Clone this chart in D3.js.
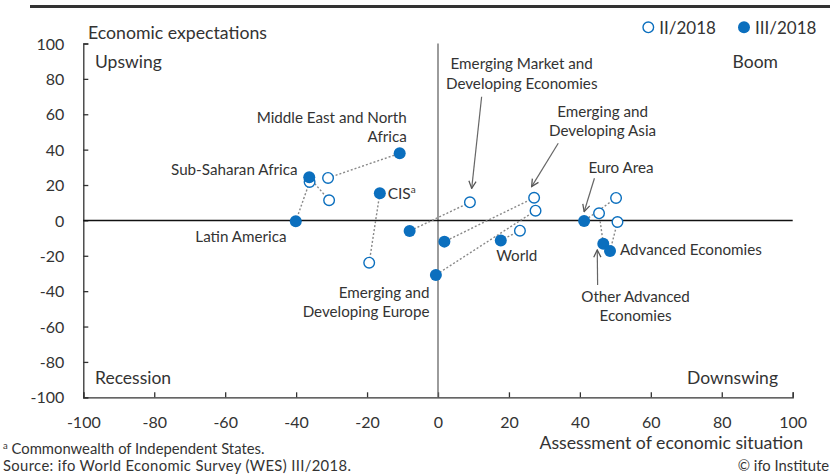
<!DOCTYPE html>
<html>
<head>
<meta charset="utf-8">
<script src="https://cdn.jsdelivr.net/npm/d3@7"></script>
<style>
  body { margin: 0; background: #fff; }
  svg text { font-family: Lato, "Open Sans", sans-serif; fill: #333; }
</style>
</head>
<body>
<div id="chart"></div>
<script>
// Regions and their (assessment, expectations) balances for both quarters
var regions = ["Middle East and North Africa", "Sub-Saharan Africa", "Latin America", "CIS",
  "Emerging Market and Developing Economies", "Emerging and Developing Asia",
  "Emerging and Developing Europe", "World", "Euro Area", "Other Advanced Economies", "Advanced Economies"];
var xII  = [-31, -30.7, -36.2, -19.4, 9, 27.1, 27.5, 23.1, 50.2, 45.4, 50.6];
var yII  = [24, 11.4, 21.7, -23.9, 10.2, 12.8, 5.5, -5.8, 12.7, 4, -0.9];
var xIII = [-10.8, -36.3, -40.1, -16.4, -8, 1.8, -0.6, 17.7, 41.2, 46.6, 48.5];
var yIII = [37.9, 24.4, -0.5, 15.3, -6, -12, -30.8, -11.3, -0.3, -13.2, -17.3];

var xTicks = [-100, -80, -60, -40, -20, 0, 20, 40, 60, 80, 100];
var yTicks = [-100, -80, -60, -40, -20, 0, 20, 40, 60, 80, 100];
var seriesNames = ["II/2018", "III/2018"];

// SVG size and plot box
var svgWidth = 836;
var svgHeight = 475;
var plot = { left: 83.3, right: 792.7, top: 43.5, bottom: 397.3 };
var blue = "#0b6fbe";

var svg = d3.select("#chart")
  .append("svg")
  .attr("width", svgWidth)
  .attr("height", svgHeight);

var x = d3.scaleLinear().domain([-100, 100]).range([plot.left, plot.right]);
var y = d3.scaleLinear().domain([-100, 100]).range([plot.bottom, plot.top]);

// top rule
svg.append("line")
  .attr("x1", 30).attr("x2", 830).attr("y1", 6.5).attr("y2", 6.5)
  .attr("stroke", "#333").attr("stroke-width", 3);

// axes (ticks pointing inward), plain hyphen for negatives
var fmt = d => String(d);
var xAxis = svg.append("g")
  .attr("transform", `translate(0, ${plot.bottom})`)
  .call(d3.axisBottom(x).tickValues(xTicks).tickSize(-5).tickPadding(0).tickFormat(fmt));
var yAxis = svg.append("g")
  .attr("transform", `translate(${plot.left}, 0)`)
  .call(d3.axisLeft(y).tickValues(yTicks).tickSize(-5).tickPadding(0).tickFormat(fmt));

[xAxis, yAxis].forEach(function(g) {
  g.select(".domain").attr("stroke", "#333").attr("stroke-width", 1.3);
  g.selectAll(".tick line").attr("stroke", "#333").attr("stroke-width", 1.3);
  g.selectAll(".tick text").attr("fill", "#333").style("font-size", "16px")
    .style("font-family", "Lato, sans-serif");
});
xAxis.selectAll(".tick text").attr("y", 31).attr("dy", 0);
yAxis.selectAll(".tick text").attr("x", -19).attr("dy", "0.35em");

// zero cross lines
svg.append("line")
  .attr("x1", x(0)).attr("x2", x(0)).attr("y1", y(100)).attr("y2", y(-100))
  .attr("stroke", "#666").attr("stroke-width", 1.3);
svg.append("line")
  .attr("x1", x(-100)).attr("x2", x(100)).attr("y1", y(0)).attr("y2", y(0))
  .attr("stroke", "#111").attr("stroke-width", 1.5);

// quadrant labels
var quadText = [
  { t: "Upswing", a: "start", px: 95, py: 68 },
  { t: "Boom", a: "end", px: 778, py: 68 },
  { t: "Recession", a: "start", px: 95, py: 384 },
  { t: "Downswing", a: "end", px: 778, py: 384 }
];
svg.selectAll("text.quad").data(quadText).enter()
  .append("text").attr("class", "quad")
  .attr("x", d => d.px).attr("y", d => d.py)
  .attr("text-anchor", d => d.a)
  .style("font-size", "17.5px")
  .text(d => d.t);

// axis titles
svg.append("text").attr("x", 88).attr("y", 38.5)
  .style("font-size", "17.7px").text("Economic expectations");
svg.append("text").attr("x", 803).attr("y", 449).attr("text-anchor", "end")
  .style("font-size", "17.7px").text("Assessment of economic situation");

// dotted connectors between quarters
svg.selectAll("line.link").data(regions).enter()
  .append("line").attr("class", "link")
  .attr("x1", (d, i) => x(xII[i])).attr("y1", (d, i) => y(yII[i]))
  .attr("x2", (d, i) => x(xIII[i])).attr("y2", (d, i) => y(yIII[i]))
  .attr("stroke", "#888").attr("stroke-width", 1.4).attr("stroke-dasharray", "2,2");

// annotation arrows
svg.append("defs").append("marker")
  .attr("id", "arr").attr("viewBox", "0 0 10 10").attr("refX", 9).attr("refY", 5)
  .attr("markerWidth", 9).attr("markerHeight", 9).attr("markerUnits", "userSpaceOnUse")
  .attr("orient", "auto")
  .append("path").attr("d", "M1,1 L9,5 L1,9").attr("fill", "none")
  .attr("stroke", "#555").attr("stroke-width", 1.4);

var arrows = [
  [12.3, 69.9, 9.5, 18.1],
  [33.9, 43.6, 26.4, 19.1],
  [44.1, 23.8, 41.2, 4.9],
  [45.0, -36.5, 44.9, -16.7]
];
svg.selectAll("line.arrow").data(arrows).enter()
  .append("line").attr("class", "arrow")
  .attr("x1", d => x(d[0])).attr("y1", d => y(d[1]))
  .attr("x2", d => x(d[2])).attr("y2", d => y(d[3]))
  .attr("stroke", "#666").attr("stroke-width", 1.2)
  .attr("marker-end", "url(#arr)");

// II/2018 open circles
svg.selectAll("circle.q2").data(regions).enter()
  .append("circle").attr("class", "q2")
  .attr("cx", (d, i) => x(xII[i])).attr("cy", (d, i) => y(yII[i]))
  .attr("r", 5.3).attr("fill", "#fff").attr("stroke", blue).attr("stroke-width", 1.4);

// III/2018 filled circles
svg.selectAll("circle.q3").data(regions).enter()
  .append("circle").attr("class", "q3")
  .attr("cx", (d, i) => x(xIII[i])).attr("cy", (d, i) => y(yIII[i]))
  .attr("r", 6).attr("fill", blue);

// region labels (anchored in data units)
var labels = [
  { lines: ["Middle East and North", "Africa"], lx: -8.8, ly: 55.1, a: "end" },
  { lines: ["Sub-Saharan Africa"], lx: -39.6, ly: 25.7, a: "end" },
  { lines: ["Latin America"], lx: -42.7, ly: -12.0, a: "end" },
  { lines: ["Emerging Market and", "Developing Economies"], lx: 23.6, ly: 85.4, a: "middle" },
  { lines: ["Emerging and", "Developing Asia"], lx: 46.4, ly: 58.6, a: "middle" },
  { lines: ["Emerging and", "Developing Europe"], lx: -2.4, ly: -43.7, a: "end" },
  { lines: ["World"], lx: 16.4, ly: -22.8, a: "start" },
  { lines: ["Euro Area"], lx: 42.4, ly: 27, a: "start" },
  { lines: ["Advanced Economies"], lx: 51.3, ly: -19.6, a: "start" },
  { lines: ["Other Advanced", "Economies"], lx: 55.7, ly: -46, a: "middle" }
];
labels.forEach(function(l) {
  var t = svg.append("text")
    .attr("text-anchor", l.a)
    .style("font-size", "15.2px");
  l.lines.forEach(function(s, k) {
    t.append("tspan").attr("x", x(l.lx)).attr("y", y(l.ly) + k * 19.5).text(s);
  });
});
var cis = svg.append("text").attr("x", x(-14.2)).attr("y", y(12.1)).style("font-size", "15.5px");
cis.append("tspan").text("CIS");
cis.append("tspan").attr("dy", -6).style("font-size", "10px").text("a");

// legend
var legend = svg.append("g");
var legendX = [648.3, 744];
seriesNames.forEach(function(s, i) {
  legend.append("circle").attr("cx", legendX[i]).attr("cy", 27.3).attr("r", i ? 6 : 5.3)
    .attr("fill", i ? blue : "#fff").attr("stroke", i ? "none" : blue).attr("stroke-width", 1.4);
  legend.append("text").attr("x", legendX[i] + 11).attr("y", 34)
    .style("font-size", "17px").text(s);
});

// footnotes
var fn = svg.append("text").attr("x", 3).attr("y", 454).style("font-size", "14.8px");
fn.append("tspan").attr("dy", -5).style("font-size", "9.5px").text("a");
fn.append("tspan").attr("dy", 5).text(" Commonwealth of Independent States.");
svg.append("text").attr("x", 3).attr("y", 471).style("font-size", "14.8px")
  .style("letter-spacing", "0.35px")
  .text("Source: ifo World Economic Survey (WES) III/2018.");
svg.append("text").attr("x", 829).attr("y", 471).attr("text-anchor", "end")
  .style("font-size", "14.8px").text("© ifo Institute");
</script>
</body>
</html>
